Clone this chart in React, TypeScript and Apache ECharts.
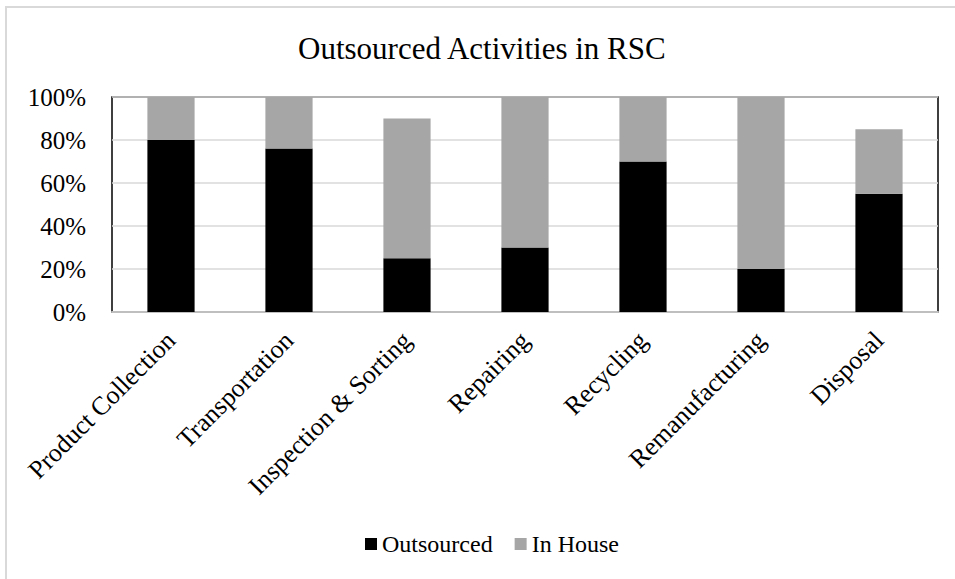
import React, { useEffect, useRef } from "react";
import * as echarts from "echarts";

const categories = [
  "Product Collection",
  "Transportation",
  "Inspection & Sorting",
  "Repairing",
  "Recycling",
  "Remanufacturing",
  "Disposal",
];
const outsourced = [80, 76, 25, 30, 70, 20, 55];
const inHouse = [20, 24, 65, 70, 30, 80, 30];
const titleText = "Outsourced Activities in RSC";
const seriesNames = ["Outsourced", "In House"];

const FONT = "Liberation Serif";

export default function App() {
  const ref = useRef<HTMLDivElement>(null);
  useEffect(() => {
    if (!ref.current) return;
    const chart = echarts.init(ref.current, null, { renderer: "svg" });
    chart.setOption({
      animation: false,
      backgroundColor: "#ffffff",
      textStyle: { fontFamily: FONT, color: "#000" },
      title: {
        text: titleText,
        left: 293,
        top: 28,
        textStyle: { fontFamily: FONT, fontSize: 31, fontWeight: "normal", color: "#000" },
      },
      graphic: [
        {
          type: "rect",
          shape: { x: 6, y: 7, width: 2000, height: 2000 },
          style: { fill: "none", stroke: "#d9d9d9", lineWidth: 2 },
          silent: true,
        },
      ],
      legend: {
        data: seriesNames,
        bottom: 18,
        left: 360,
        icon: "rect",
        itemWidth: 12,
        itemHeight: 12,
        itemGap: 22,
        textStyle: { fontFamily: FONT, fontSize: 24, color: "#000" },
      },
      grid: {
        left: 112,
        right: 17,
        top: 97,
        bottom: 267,
        show: true,
        borderColor: "#000",
        borderWidth: 1.5,
        backgroundColor: "transparent",
      },
      xAxis: {
        type: "category",
        data: categories,
        axisLine: { show: true, lineStyle: { color: "#bfbfbf", width: 2 } },
        axisTick: { show: false },
        axisLabel: {
          interval: 0,
          rotate: 45,
          margin: 24,
          fontFamily: FONT,
          fontSize: 26,
          color: "#000",
        },
      },
      yAxis: {
        type: "value",
        min: 0,
        max: 100,
        interval: 20,
        axisLine: { show: false },
        axisTick: { show: false },
        splitLine: { show: true, lineStyle: { color: "#d9d9d9", width: 1.5 } },
        axisLabel: {
          formatter: "{value}%",
          margin: 26,
          fontFamily: FONT,
          fontSize: 25,
          color: "#000",
        },
      },
      series: [
        {
          name: seriesNames[0],
          type: "bar",
          stack: "total",
          data: outsourced,
          barWidth: "40%",
          itemStyle: { color: "#000000" },
        },
        {
          name: seriesNames[1],
          type: "bar",
          stack: "total",
          data: inHouse,
          barWidth: "40%",
          itemStyle: { color: "#a6a6a6" },
        },
      ],
    });
    return () => chart.dispose();
  }, []);
  return (
    <div
      ref={ref}
      style={{ position: "fixed", left: 0, top: 0, width: 955, height: 579 }}
    />
  );
}
